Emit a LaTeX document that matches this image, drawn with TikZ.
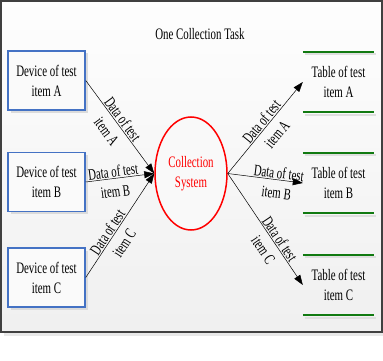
\documentclass[tikz,border=0pt]{standalone}
\usepackage{fontspec}
\setmainfont[FakeStretch=0.68]{Liberation Serif}
\usetikzlibrary{shapes.geometric,arrows.meta,shadows}
\definecolor{boxblue}{HTML}{4472C4}
\definecolor{framegray}{HTML}{404040}
\definecolor{tabgreen}{HTML}{117A11}
\begin{document}
\begin{tikzpicture}[x=1pt,y=-1pt,
  every node/.style={font=\fontsize{16}{20}\selectfont, align=center, inner sep=0pt},
  devbox/.style={draw=boxblue, line width=1.5pt, fill=gray!4, minimum width=77pt, minimum height=59pt,
    drop shadow={shadow xshift=2.5pt, shadow yshift=-2.5pt, fill=gray!28, opacity=1}},
  tablenode/.style={minimum width=71pt, minimum height=60pt},
  sysnode/.style={ellipse, draw=red, line width=1.5pt, fill=gray!5, minimum width=72pt, minimum height=113pt, text=red},
  flow/.style={line width=0.5pt, -{Triangle[length=10pt,width=7pt]}},
  lbl/.style={sloped, yshift=-3pt},
  greenline/.style={draw=tabgreen, line width=2pt},
  greenshadow/.style={draw=gray!25, line width=2pt}
]
\useasboundingbox (0,0) rectangle (383,361);
% frame
\fill[gray!18] (4,332) rectangle (383,336);
\shade[top color=gray!1, bottom color=gray!12] (1,1) rectangle (382,332);
\draw[line width=1.3pt, framegray] (1,1) rectangle (382,332);
% title
\node (title) at (200,34) {One Collection Task};
% devices
\node[devbox] (devA) at (46.5,80.5) {Device of test\\item A};
\node[devbox] (devB) at (46.5,182) {Device of test\\item B};
\node[devbox] (devC) at (46.5,277.5) {Device of test\\item C};
% system
\node[sysnode] (sys) at (191,173.5) {Collection\\System};
% tables
\node[tablenode] (tabA) at (338.5,82) {Table of test\\item A};
\node[tablenode] (tabB) at (338.5,183) {Table of test\\item B};
\node[tablenode] (tabC) at (338.5,285) {Table of test\\item C};
\foreach \t in {tabA,tabB,tabC}{
  \draw[greenshadow] ([shift={(2,2.5)}]\t.north west) -- ([shift={(2,2.5)}]\t.north east);
  \draw[greenshadow] ([shift={(2,2.5)}]\t.south west) -- ([shift={(2,2.5)}]\t.south east);
  \draw[greenline] (\t.north west) -- (\t.north east);
  \draw[greenline] (\t.south west) -- (\t.south east);
}
% flows in
\draw[flow] (devA.east) -- node[lbl, pos=0.46] {Data of test\\item A} (sys.west);
\draw[flow] (devB.east) -- node[lbl, pos=0.41] {Data of test\\item B} (sys.west);
\draw[flow] (devC.east) -- node[lbl, pos=0.40] {Data of test\\item C} (sys.west);
% flows out
\draw[flow] (sys.east) -- node[lbl, pos=0.52] {Data of test\\item A} (tabA.west);
\draw[flow] (sys.east) -- node[lbl, pos=0.67] {Data of test\\item B} (tabB.west);
\draw[flow] (sys.east) -- node[lbl, pos=0.62] {Data of test\\item C} (tabC.west);
\end{tikzpicture}
\end{document}
